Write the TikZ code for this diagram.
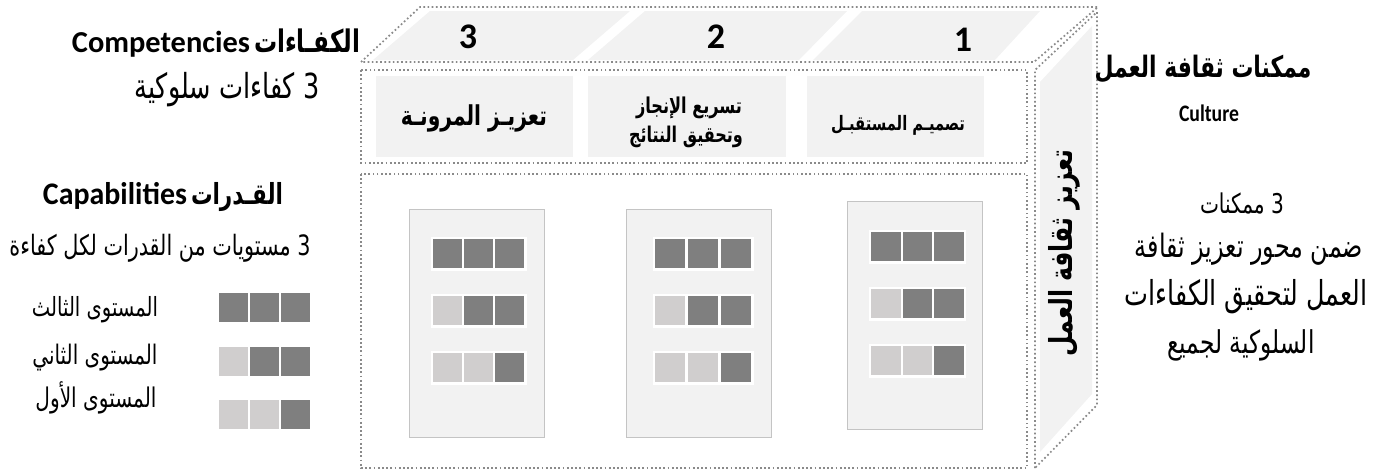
\documentclass[tikz,border=0pt]{standalone}
\usepackage{fontspec}
\usepackage{graphicx}
\TeXXeTstate=1
\setmainfont{Carlito}
\newfontfamily\arb[Script=Arabic]{DejaVu Sans}
\newfontfamily\lat{Carlito}
\definecolor{dotgray}{HTML}{8A8A8A}
\definecolor{panelfill}{HTML}{F2F2F2}
\definecolor{panelborder}{HTML}{C4C4C4}
\definecolor{darksq}{HTML}{7F7F7F}
\definecolor{lightsq}{HTML}{D0CECE}
% Arabic text fitted to a width and stretched vertically (regular / bold)
\newcommand\ARr[2]{\scalebox{1}[1.35]{\resizebox{#1pt}{!}{\arb #2}}}
\newcommand\ARb[2]{\scalebox{1}[1.35]{\resizebox{#1pt}{!}{\arb\bfseries #2}}}
% row of three squares: x0, y0, width, gap, height, c1, c2, c3
\newcommand\sqrow[8]{%
  \fill[white] (#1-2.5,#2-2.5) rectangle (#1+3*#3+2*#4+2.5,#2+#5+2.5);
  \fill[#6] (#1,#2) rectangle (#1+#3,#2+#5);
  \fill[#7] (#1+#3+#4,#2) rectangle (#1+2*#3+#4,#2+#5);
  \fill[#8] (#1+2*#3+2*#4,#2) rectangle (#1+3*#3+2*#4,#2+#5);
}
\tikzset{
  dotbox/.style={draw=dotgray, line width=1.7pt, dash pattern=on 1.7pt off 2.5pt},
  facefill/.style={fill=panelfill, draw=none},
  panelbox/.style={fill=panelfill, draw=panelborder, line width=1pt},
  txt/.style={inner sep=0pt, anchor=center},
}
\begin{document}
\begin{tikzpicture}[x=1pt,y=-1pt]
\useasboundingbox (0,0) rectangle (1379,474);
% ---------- top face fills ----------
\fill[panelfill] (373,60) -- (430,11) -- (630,11) -- (573,60) -- cycle;
\fill[panelfill] (588,60) -- (645,11) -- (847,11) -- (799,60) -- cycle;
\fill[panelfill] (813,60) -- (862,11) -- (1040,11) -- (995,60) -- cycle;
% ---------- right face fill ----------
\fill[panelfill] (1040,82) -- (1092,26) -- (1092,394) -- (1040,452) -- cycle;
% ---------- competency boxes ----------
\node[facefill, minimum width=197pt, minimum height=81pt, anchor=north west, inner sep=0pt] (c3) at (376,76) {};
\node[facefill, minimum width=198pt, minimum height=81pt, anchor=north west, inner sep=0pt] (c2) at (588,76) {};
\node[facefill, minimum width=177pt, minimum height=81pt, anchor=north west, inner sep=0pt] (c1) at (807,76) {};
% ---------- dotted outlines ----------
\draw[dotbox] (361,62) -- (420,7) -- (1098,7) -- (1034,62) -- cycle;
\draw[dotbox] (1035,468) -- (1035,70) -- (1097,12) -- (1097,405) -- cycle;
\draw[dotbox] (361,70) rectangle (1027,163);
\draw[dotbox] (361,174) rectangle (1027,468);
% ---------- level panels ----------
\node[panelbox, minimum width=135pt, minimum height=228pt, anchor=north west, inner sep=0pt] (p3) at (409,209) {};
\node[panelbox, minimum width=145pt, minimum height=228pt, anchor=north west, inner sep=0pt] (p2) at (626,209) {};
\node[panelbox, minimum width=135pt, minimum height=228pt, anchor=north west, inner sep=0pt] (p1) at (847,201) {};
% panel 3 (left)
\sqrow{433}{239}{29}{2}{29}{darksq}{darksq}{darksq}
\sqrow{433}{296}{29}{2}{29}{lightsq}{darksq}{darksq}
\sqrow{433}{353}{29}{2}{29}{lightsq}{lightsq}{darksq}
% panel 2 (middle)
\sqrow{655}{239}{30}{3}{29}{darksq}{darksq}{darksq}
\sqrow{655}{296}{30}{3}{29}{lightsq}{darksq}{darksq}
\sqrow{655}{353}{30}{3}{29}{lightsq}{lightsq}{darksq}
% panel 1 (right)
\sqrow{871}{232}{29.5}{2}{29}{darksq}{darksq}{darksq}
\sqrow{871}{289}{29.5}{2}{29}{lightsq}{darksq}{darksq}
\sqrow{871}{346}{29.5}{2}{29}{lightsq}{lightsq}{darksq}
% legend
\fill[darksq] (219,293) rectangle (248,322);
\fill[darksq] (250,293) rectangle (279,322);
\fill[darksq] (281,293) rectangle (310,322);
\fill[lightsq] (219,347) rectangle (248,376);
\fill[darksq] (250,347) rectangle (279,376);
\fill[darksq] (281,347) rectangle (310,376);
\fill[lightsq] (219,400) rectangle (248,429);
\fill[lightsq] (250,400) rectangle (279,429);
\fill[darksq] (281,400) rectangle (310,429);
% ---------- numbers ----------
\node[txt] (n3) at (468,37) {\fontsize{36}{40}\selectfont\bfseries 3};
\node[txt] (n2) at (716,37) {\fontsize{36}{40}\selectfont\bfseries 2};
\node[txt] (n1) at (963,40) {\fontsize{36}{40}\selectfont\bfseries 1};
% ---------- competency labels ----------
\node[txt] (l3) at (474,118) {\ARb{146}{\beginR تعزيـز المرونـة\endR}};
\node[txt] (l2a) at (689,108) {\ARb{106}{\beginR تسريع الإنجاز\endR}};
\node[txt] (l2b) at (686,137) {\ARb{114}{\beginR وتحقيق النتائج\endR}};
\node[txt] (l1) at (898,125) {\ARb{134}{\beginR تصميـم المستقبـل\endR}};
% ---------- vertical label ----------
\node[txt, rotate=90] (vl) at (1064,253) {\ARb{207}{\beginR تعزيز ثقافة العمل\endR}};
% ---------- left texts ----------
\node[txt] (h1) at (216,43) {\resizebox{178pt}{!}{\lat\bfseries Competencies}\hspace{4pt}\ARb{106}{\beginR الكفـاءات\endR}};
\node[txt] (s1) at (227,90) {\ARr{185}{\beginR 3 كفاءات سلوكية\endR}};
\node[txt] (h2) at (163,197) {\scalebox{1}[1.05]{\resizebox{144pt}{!}{\lat\bfseries Capabilities}}\hspace{4pt}\ARb{92}{\beginR القـدرات\endR}};
\node[txt] (s2) at (160,248) {\ARr{301}{\beginR 3 مستويات من القدرات لكل كفاءة\endR}};
\node[txt] (lg3) at (95,310) {\ARr{126}{\beginR المستوى الثالث\endR}};
\node[txt] (lg2) at (95,358) {\ARr{125}{\beginR المستوى الثاني\endR}};
\node[txt] (lg1) at (96,398) {\ARr{121}{\beginR المستوى الأول\endR}};
% ---------- right texts ----------
\node[txt] (h3) at (1203,69) {\ARb{217}{\beginR ممكنات ثقافة العمل\endR}};
\node[txt] (cu) at (1209,113) {\scalebox{1}[1.2]{\resizebox{60pt}{!}{\lat\bfseries Culture}}};
\node[txt] (r1) at (1242,203) {\ARr{84}{\beginR 3 ممكنات\endR}};
\node[txt] (r2) at (1249,249) {\ARr{228}{\beginR ضمن محور تعزيز ثقافة\endR}};
\node[txt] (r3) at (1246,297) {\ARr{243}{\beginR العمل لتحقيق الكفاءات\endR}};
\node[txt] (r4) at (1241,345) {\ARr{147}{\beginR السلوكية لجميع\endR}};
\end{tikzpicture}
\end{document}
